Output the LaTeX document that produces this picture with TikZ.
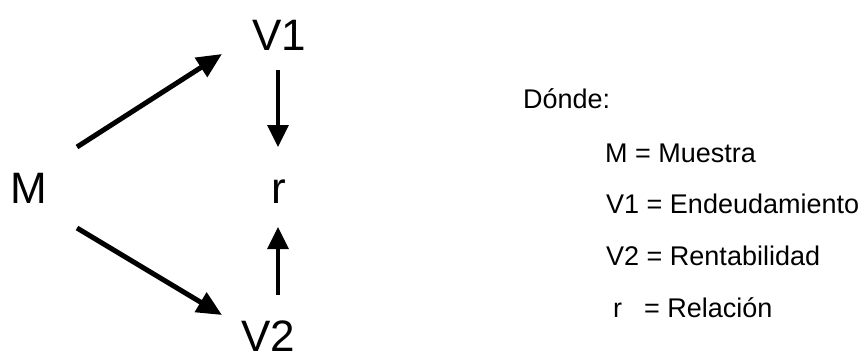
\documentclass[tikz,border=0pt]{standalone}
\usepackage{fontspec}
\setmainfont{Liberation Sans}
\usetikzlibrary{arrows.meta}
\tikzset{
  big/.style={inner sep=0pt, font=\fontsize{44}{44}\selectfont},
  legend/.style={inner sep=0pt, anchor=base west, font=\fontsize{27}{27}\selectfont},
  diag/.style={line width=5pt, -{Triangle[length=25pt,width=22pt]}},
  vert/.style={line width=3.2pt, -{Triangle[length=22pt,width=21pt]}},
}
\begin{document}
\begin{tikzpicture}[x=1pt,y=-1pt]
\useasboundingbox (0,0) rectangle (868,354);
% main labels
\node[big, anchor=base] (V1) at (279,50) {V1};
\node[big, anchor=base west] (M) at (10,203) {M};
\node[big, anchor=base] (r) at (279,203) {r};
\node[big, anchor=base] (V2) at (268,351) {V2};
% connector end points
\coordinate (mUp) at (77,147);
\coordinate (v1In) at (222,54);
\coordinate (mDown) at (77,228);
\coordinate (v2In) at (222,315);
\coordinate (v1Out) at (278,70);
\coordinate (rTop) at (278,147);
\coordinate (v2Out) at (278,295);
\coordinate (rBot) at (278,227);
\draw[diag] (mUp) -- (v1In);
\draw[diag] (mDown) -- (v2In);
\draw[vert] (v1Out) -- (rTop);
\draw[vert] (v2Out) -- (rBot);
% legend
\node[legend] (donde) at (523,108) {Dónde:};
\node[legend] (lm) at (605,162) {M = Muestra};
\node[legend] (lv1) at (606,213) {V1 = Endeudamiento};
\node[legend] (lv2) at (606,265) {V2 = Rentabilidad};
\node[legend] (lr) at (613,317) {r\hspace{22pt}= Relación};
\end{tikzpicture}
\end{document}
